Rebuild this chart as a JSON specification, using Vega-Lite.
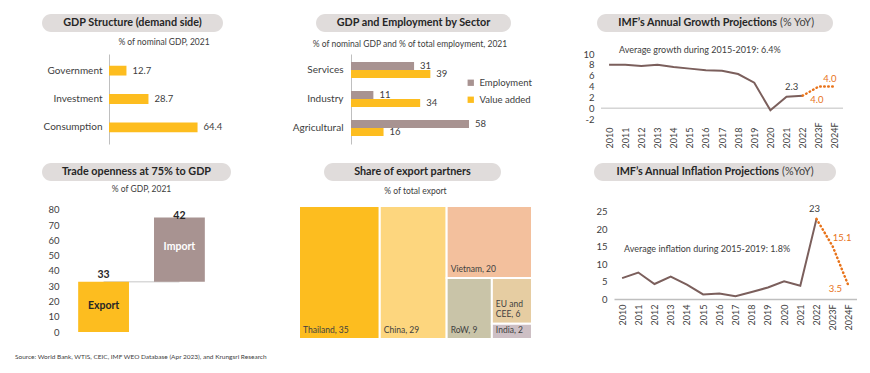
{
  "$schema": "https://vega.github.io/schema/vega-lite/v6.json",
  "background": "white",
  "padding": {"left": 15, "top": 14, "right": 0, "bottom": 0},
  "config": {
    "font": "Lato",
    "view": {"stroke": null},
    "axis": {"labelColor": "#404040", "labelFont": "Lato", "labelFontSize": 9, "ticks": false, "grid": false, "domainColor": "#BFBFBF", "labelOverlap": false},
    "title": {"fontSize": 8.5, "fontWeight": "normal", "color": "#404040", "anchor": "middle", "font": "Lato"},
    "text": {"font": "Lato", "fontSize": 9, "color": "#404040"}
  },
  "title": {"text": "Source: World Bank, WTIS, CEIC, IMF WEO Database (Apr 2023), and Krungsri Research", "orient": "bottom", "anchor": "start", "fontSize": 6.5, "dx": -27, "offset": 14, "color": "#404040"},
  "spacing": 15,
  "resolve": {"scale": {"color": "independent"}, "legend": {"color": "independent"}},
  "vconcat": [
    {
      "spacing": 5,
      "resolve": {"scale": {"color": "independent"}, "legend": {"color": "independent"}},
      "vconcat": [
        {
          "spacing": 93,
          "hconcat": [
            {"width": 181, "height": 18, "view": {"fill": "#E0DCDB", "cornerRadius": 9, "stroke": null},
             "data": {"values": [{"t": "GDP Structure (demand side)"}]},
             "mark": {"type": "text", "fontWeight": "bold", "fontSize": 10.8, "color": "#262626"},
             "encoding": {"text": {"field": "t"}}},
            {
              "spacing": 86,
              "hconcat": [
                {"width": 195, "height": 18, "view": {"fill": "#E0DCDB", "cornerRadius": 9, "stroke": null},
                 "data": {"values": [{"t": "GDP and Employment by Sector"}]},
                 "mark": {"type": "text", "fontWeight": "bold", "fontSize": 10.8, "color": "#262626"},
                 "encoding": {"text": {"field": "t"}}},
                {"width": 236, "height": 18, "view": {"fill": "#E0DCDB", "cornerRadius": 9, "stroke": null},
                 "data": {"values": [{"bold": "IMF’s Annual Growth Projections", "normal": "(% YoY)"}]},
                 "layer": [
                   {"mark": {"type": "text", "fontWeight": "bold", "fontSize": 10.8, "align": "right", "dx": 62, "color": "#262626"}, "encoding": {"text": {"field": "bold"}}},
                   {"mark": {"type": "text", "fontSize": 10.8, "align": "left", "dx": 65, "color": "#404040"}, "encoding": {"text": {"field": "normal"}}}
                 ]}
              ]
            }
          ]
        },
        {
          "spacing": 0,
          "resolve": {"scale": {"color": "independent"}, "legend": {"color": "independent"}},
          "hconcat": [
            {"width": 1, "height": 1, "data": {"values": [{}]}, "mark": {"type": "text"}, "encoding": {"text": {"value": " "}}},
            {
              "spacing": 69,
              "resolve": {"scale": {"color": "independent"}, "legend": {"color": "independent"}},
              "hconcat": [
                {
                  "title": {"text": "% of nominal GDP, 2021", "offset": 8},
                  "width": 110, "height": 90,
                  "data": {"values": [
                    {"component": "Government", "value": 12.7},
                    {"component": "Investment", "value": 28.7},
                    {"component": "Consumption", "value": 64.4}
                  ]},
                  "encoding": {
                    "y": {"field": "component", "type": "nominal", "sort": null, "scale": {"paddingInner": 0.655, "paddingOuter": 0.414},
                          "axis": {"title": null, "domain": true, "labelPadding": 7, "labelFontSize": 10}},
                    "x": {"field": "value", "type": "quantitative", "scale": {"domain": [0, 80]}, "axis": null}
                  },
                  "layer": [
                    {"mark": {"type": "bar", "color": "#FDBD1F"}},
                    {"mark": {"type": "text", "align": "left", "dx": 6, "fontSize": 9.5}, "encoding": {"text": {"field": "value", "format": ".1f"}}}
                  ]
                },
                {
                  "spacing": 50,
                  "resolve": {"scale": {"color": "independent"}, "legend": {"color": "independent"}},
                  "hconcat": [
                    {
                      "title": {"text": "% of nominal GDP and % of total employment, 2021", "offset": 6},
                      "width": 118, "height": 90,
                      "data": {"values": [
                        {"sector": "Services", "measure": "Employment", "value": 31},
                        {"sector": "Services", "measure": "Value added", "value": 39},
                        {"sector": "Industry", "measure": "Employment", "value": 11},
                        {"sector": "Industry", "measure": "Value added", "value": 34},
                        {"sector": "Agricultural", "measure": "Employment", "value": 58},
                        {"sector": "Agricultural", "measure": "Value added", "value": 16}
                      ]},
                      "encoding": {
                        "y": {"field": "sector", "type": "nominal", "sort": ["Services", "Industry", "Agricultural"], "scale": {"paddingInner": 0.45, "paddingOuter": 0.276},
                              "axis": {"title": null, "domain": true, "labelPadding": 8, "labelFontSize": 10}},
                        "yOffset": {"field": "measure", "type": "nominal", "sort": ["Employment", "Value added"]},
                        "x": {"field": "value", "type": "quantitative", "scale": {"domain": [0, 58]}, "axis": null}
                      },
                      "layer": [
                        {"mark": {"type": "bar"},
                         "encoding": {"color": {"field": "measure", "type": "nominal",
                           "scale": {"domain": ["Employment", "Value added"], "range": ["#A89391", "#FDBD1F"]},
                           "legend": {"title": null, "orient": "none", "legendX": 115, "legendY": 24, "symbolType": "square", "symbolSize": 40, "labelFontSize": 9.5, "labelColor": "#404040", "rowPadding": 6, "padding": 0}}}},
                        {"mark": {"type": "text", "align": "left", "dx": 6, "fontSize": 9.5}, "encoding": {"text": {"field": "value"}}}
                      ]
                    },
                    {
                      "width": 242, "height": 65,
                      "data": {"values": [
                        {"year": "2010", "value": 8.0, "series": "actual"},
                        {"year": "2011", "value": 8.0, "series": "actual"},
                        {"year": "2012", "value": 7.8, "series": "actual"},
                        {"year": "2013", "value": 8.0, "series": "actual"},
                        {"year": "2014", "value": 7.6, "series": "actual"},
                        {"year": "2015", "value": 7.3, "series": "actual"},
                        {"year": "2016", "value": 7.0, "series": "actual"},
                        {"year": "2017", "value": 6.9, "series": "actual"},
                        {"year": "2018", "value": 6.3, "series": "actual"},
                        {"year": "2019", "value": 4.7, "series": "actual"},
                        {"year": "2020", "value": -0.4, "series": "actual"},
                        {"year": "2021", "value": 2.1, "series": "actual"},
                        {"year": "2022", "value": 2.3, "series": "actual"},
                        {"year": "2022", "value": 2.3, "series": "forecast"},
                        {"year": "2023F", "value": 4.0, "series": "forecast"},
                        {"year": "2024F", "value": 4.0, "series": "forecast"}
                      ]},
                      "layer": [
                        {"data": {"values": [{}]}, "mark": {"type": "rule", "color": "#BFBFBF", "strokeWidth": 1}, "encoding": {"y": {"datum": 0}}},
                        {"transform": [{"filter": "datum.series === 'actual'"}],
                         "mark": {"type": "line", "color": "#7B5F5C", "strokeWidth": 2},
                         "encoding": {
                           "x": {"field": "year", "type": "ordinal", "scale": {"type": "point", "padding": 0.5}, "axis": {"title": null, "labelAngle": -90, "labelAlign": "left", "domain": false, "labelPadding": 29}},
                           "y": {"field": "value", "type": "quantitative", "scale": {"domain": [-2, 10], "nice": false}, "axis": {"title": null, "values": [-2, 0, 2, 4, 6, 8, 10], "format": "d", "tickCount": 20, "labelOverlap": false, "labelExpr": "replace(datum.label, '−', '-')", "domain": false, "labelPadding": 7, "labelFontSize": 9.5}}
                         }},
                        {"transform": [{"filter": "datum.series === 'forecast'"}],
                         "mark": {"type": "line", "color": "#E8731A", "strokeWidth": 2.5, "strokeDash": [0.5, 3.5], "strokeCap": "round"},
                         "encoding": {"x": {"field": "year", "type": "ordinal"}, "y": {"field": "value", "type": "quantitative"}}},
                        {"transform": [{"filter": "datum.series === 'actual' && datum.year === '2022'"}],
                         "mark": {"type": "text", "fontSize": 9.5, "dx": -11, "dy": -9},
                         "encoding": {"x": {"field": "year", "type": "ordinal"}, "y": {"field": "value", "type": "quantitative"}, "text": {"field": "value", "format": ".1f"}}},
                        {"transform": [{"filter": "datum.year === '2023F'"}],
                         "mark": {"type": "text", "fontSize": 9.5, "color": "#E8731A", "dx": -2, "dy": 13},
                         "encoding": {"x": {"field": "year", "type": "ordinal"}, "y": {"field": "value", "type": "quantitative"}, "text": {"field": "value", "format": ".1f"}}},
                        {"transform": [{"filter": "datum.year === '2024F'"}],
                         "mark": {"type": "text", "fontSize": 9.5, "color": "#E8731A", "dx": -5, "dy": -8},
                         "encoding": {"x": {"field": "year", "type": "ordinal"}, "y": {"field": "value", "type": "quantitative"}, "text": {"field": "value", "format": ".1f"}}},
                        {"data": {"values": [{}]},
                         "mark": {"type": "text", "fontSize": 9, "dx": -6},
                         "encoding": {"x": {"datum": "2016"}, "y": {"datum": 10.8}, "text": {"value": "Average growth during 2015-2019: 6.4%"}}}
                      ]
                    }
                  ]
                }
              ]
            }
          ]
        }
      ]
    },
    {
      "spacing": 4,
      "resolve": {"scale": {"color": "independent"}, "legend": {"color": "independent"}},
      "vconcat": [
        {
          "spacing": 93,
          "hconcat": [
            {"width": 189, "height": 18, "view": {"fill": "#E0DCDB", "cornerRadius": 9, "stroke": null},
             "data": {"values": [{"t": "Trade openness at 75% to GDP"}]},
             "mark": {"type": "text", "fontWeight": "bold", "fontSize": 10.8, "color": "#262626"},
             "encoding": {"text": {"field": "t"}}},
            {
              "spacing": 93,
              "hconcat": [
                {"width": 177, "height": 18, "view": {"fill": "#E0DCDB", "cornerRadius": 9, "stroke": null},
                 "data": {"values": [{"t": "Share of export partners"}]},
                 "mark": {"type": "text", "fontWeight": "bold", "fontSize": 10.8, "color": "#262626"},
                 "encoding": {"text": {"field": "t"}}},
                {"width": 242, "height": 18, "view": {"fill": "#E0DCDB", "cornerRadius": 9, "stroke": null},
                 "data": {"values": [{"bold": "IMF’s Annual Inflation Projections", "normal": "(%YoY)"}]},
                 "layer": [
                   {"mark": {"type": "text", "fontWeight": "bold", "fontSize": 10.8, "align": "right", "dx": 64, "color": "#262626"}, "encoding": {"text": {"field": "bold"}}},
                   {"mark": {"type": "text", "fontSize": 10.8, "align": "left", "dx": 67, "color": "#404040"}, "encoding": {"text": {"field": "normal"}}}
                 ]}
              ]
            }
          ]
        },
        {
          "spacing": 4,
          "resolve": {"scale": {"color": "independent"}, "legend": {"color": "independent"}},
          "hconcat": [
            {"width": 1, "height": 1, "data": {"values": [{}]}, "mark": {"type": "text"}, "encoding": {"text": {"value": " "}}},
            {
              "spacing": 78,
              "resolve": {"scale": {"color": "independent"}, "legend": {"color": "independent"}},
              "hconcat": [
                {
                  "title": {"text": "% of GDP, 2021", "offset": 11},
                  "width": 157, "height": 126,
                  "data": {"values": [
                    {"flow": "Export", "start": 0, "end": 33, "value": 33},
                    {"flow": "Import", "start": 33, "end": 75, "value": 42}
                  ]},
                  "layer": [
                    {"mark": {"type": "line", "color": "#D9D9D9", "strokeWidth": 1.5},
                     "encoding": {"x": {"field": "flow", "type": "nominal", "scale": {"paddingInner": 0.33, "paddingOuter": 0.2}, "axis": null}, "y": {"datum": 33}}},
                    {"mark": {"type": "bar"},
                     "encoding": {
                       "x": {"field": "flow", "type": "nominal", "axis": null},
                       "y": {"field": "start", "type": "quantitative", "scale": {"domain": [0, 82.6], "nice": false}, "axis": {"title": null, "values": [0, 10, 20, 30, 40, 50, 60, 70, 80], "tickCount": 20, "labelOverlap": false, "domain": false, "labelPadding": 4, "labelFontSize": 9.5}},
                       "y2": {"field": "end"},
                       "color": {"field": "flow", "type": "nominal", "scale": {"domain": ["Export", "Import"], "range": ["#FDBD1F", "#A89391"]}, "legend": null}
                     }},
                    {"transform": [{"filter": "datum.flow === 'Export'"}],
                     "mark": {"type": "text", "fontWeight": "bold", "fontSize": 10.5, "color": "#262626", "dy": -7},
                     "encoding": {"x": {"field": "flow", "type": "nominal"}, "y": {"field": "end", "type": "quantitative"}, "text": {"field": "value"}}},
                    {"transform": [{"filter": "datum.flow === 'Import'"}],
                     "mark": {"type": "text", "fontWeight": "bold", "fontSize": 10.5, "color": "#262626", "dy": -2},
                     "encoding": {"x": {"field": "flow", "type": "nominal"}, "y": {"field": "end", "type": "quantitative"}, "text": {"field": "value"}}},
                    {"data": {"values": [{}]},
                     "mark": {"type": "text", "fontWeight": "bold", "fontSize": 10.5, "color": "#262626"},
                     "encoding": {"x": {"datum": "Export"}, "y": {"datum": 17}, "text": {"value": "Export"}}},
                    {"data": {"values": [{}]},
                     "mark": {"type": "text", "fontWeight": "bold", "fontSize": 10.5, "color": "white"},
                     "encoding": {"x": {"datum": "Import"}, "y": {"datum": 56}, "text": {"value": "Import"}}}
                  ]
                },
                {
                  "spacing": 62,
                  "resolve": {"scale": {"color": "independent"}, "legend": {"color": "independent"}},
                  "hconcat": [
                    {
                      "title": {"text": "% of total export", "offset": 10},
                      "width": 233, "height": 133,
                      "data": {"values": [
                        {"partner": "Thailand", "share": 35, "label": "Thailand, 35", "xStart": 0, "xEnd": 35, "yStart": 0, "yEnd": 100},
                        {"partner": "China", "share": 29, "label": "China, 29", "xStart": 35, "xEnd": 64, "yStart": 0, "yEnd": 100},
                        {"partner": "Vietnam", "share": 20, "label": "Vietnam, 20", "xStart": 64, "xEnd": 101, "yStart": 45.9, "yEnd": 100},
                        {"partner": "RoW", "share": 9, "label": "RoW, 9", "xStart": 64, "xEnd": 83.6, "yStart": 0, "yEnd": 45.9},
                        {"partner": "EU and CEE", "share": 6, "label": "EU and\nCEE, 6", "xStart": 83.6, "xEnd": 101, "yStart": 11.5, "yEnd": 45.9},
                        {"partner": "India", "share": 2, "label": "India, 2", "xStart": 83.6, "xEnd": 101, "yStart": 0, "yEnd": 11.5}
                      ]},
                      "encoding": {
                        "x": {"field": "xStart", "type": "quantitative", "scale": {"domain": [0, 101], "nice": false}, "axis": null},
                        "y": {"field": "yStart", "type": "quantitative", "scale": {"domain": [0, 100], "nice": false}, "axis": null}
                      },
                      "layer": [
                        {"mark": {"type": "rect", "stroke": "white", "strokeWidth": 2},
                         "encoding": {"x2": {"field": "xEnd"}, "y2": {"field": "yEnd"},
                           "color": {"field": "partner", "type": "nominal", "scale": {"domain": ["Thailand", "China", "Vietnam", "RoW", "EU and CEE", "India"], "range": ["#FDBD1F", "#FDD67E", "#F3C09D", "#C9C4A8", "#E6CDA2", "#CDBFC4"]}, "legend": null}}},
                        {"transform": [{"filter": "datum.partner !== 'EU and CEE'"}],
                         "mark": {"type": "text", "align": "left", "baseline": "bottom", "dx": 4, "dy": -4, "fontSize": 8.5, "color": "#404040"},
                         "encoding": {"text": {"field": "label"}}},
                        {"transform": [{"filter": "datum.partner === 'EU and CEE'"}],
                         "mark": {"type": "text", "align": "left", "baseline": "bottom", "dx": 4, "dy": -15, "fontSize": 8.5, "lineBreak": "\n", "color": "#404040"},
                         "encoding": {"text": {"field": "label"}}}
                      ]
                    },
                    {
                      "width": 243, "height": 93,
                      "data": {"values": [
                        {"year": "2010", "value": 6.0, "series": "actual"},
                        {"year": "2011", "value": 7.6, "series": "actual"},
                        {"year": "2012", "value": 4.3, "series": "actual"},
                        {"year": "2013", "value": 6.4, "series": "actual"},
                        {"year": "2014", "value": 4.1, "series": "actual"},
                        {"year": "2015", "value": 1.3, "series": "actual"},
                        {"year": "2016", "value": 1.6, "series": "actual"},
                        {"year": "2017", "value": 0.8, "series": "actual"},
                        {"year": "2018", "value": 2.0, "series": "actual"},
                        {"year": "2019", "value": 3.3, "series": "actual"},
                        {"year": "2020", "value": 5.1, "series": "actual"},
                        {"year": "2021", "value": 3.8, "series": "actual"},
                        {"year": "2022", "value": 23.0, "series": "actual"},
                        {"year": "2022", "value": 23.0, "series": "forecast"},
                        {"year": "2023F", "value": 15.1, "series": "forecast"},
                        {"year": "2024F", "value": 3.5, "series": "forecast"}
                      ]},
                      "layer": [
                        {"transform": [{"filter": "datum.series === 'actual'"}],
                         "mark": {"type": "line", "color": "#7B5F5C", "strokeWidth": 2},
                         "encoding": {
                           "x": {"field": "year", "type": "ordinal", "scale": {"type": "point", "padding": 0.5}, "axis": {"title": null, "labelAngle": -90, "domain": true, "domainWidth": 1.5, "labelPadding": 5}},
                           "y": {"field": "value", "type": "quantitative", "scale": {"domain": [0, 26.7], "nice": false}, "axis": {"title": null, "values": [0, 5, 10, 15, 20, 25], "format": "d", "tickCount": 20, "labelOverlap": false, "domain": false, "labelPadding": 7, "labelFontSize": 9.5}}
                         }},
                        {"transform": [{"filter": "datum.series === 'forecast'"}],
                         "mark": {"type": "line", "color": "#E8731A", "strokeWidth": 2.5, "strokeDash": [0.5, 3.5], "strokeCap": "round"},
                         "encoding": {"x": {"field": "year", "type": "ordinal"}, "y": {"field": "value", "type": "quantitative"}}},
                        {"transform": [{"filter": "datum.series === 'actual' && datum.year === '2022'"}],
                         "mark": {"type": "text", "fontSize": 9.5, "dx": -2, "dy": -10},
                         "encoding": {"x": {"field": "year", "type": "ordinal"}, "y": {"field": "value", "type": "quantitative"}, "text": {"field": "value", "format": ".0f"}}},
                        {"transform": [{"filter": "datum.year === '2023F'"}],
                         "mark": {"type": "text", "fontSize": 9.5, "color": "#E8731A", "align": "left", "dx": 0, "dy": -8},
                         "encoding": {"x": {"field": "year", "type": "ordinal"}, "y": {"field": "value", "type": "quantitative"}, "text": {"field": "value", "format": ".1f"}}},
                        {"transform": [{"filter": "datum.year === '2024F'"}],
                         "mark": {"type": "text", "fontSize": 9.5, "color": "#E8731A", "align": "right", "dx": -7, "dy": 2},
                         "encoding": {"x": {"field": "year", "type": "ordinal"}, "y": {"field": "value", "type": "quantitative"}, "text": {"field": "value", "format": ".1f"}}},
                        {"data": {"values": [{}]},
                         "mark": {"type": "text", "fontSize": 9, "dx": 4},
                         "encoding": {"x": {"datum": "2015"}, "y": {"datum": 14.4}, "text": {"value": "Average inflation during 2015-2019: 1.8%"}}}
                      ]
                    }
                  ]
                }
              ]
            }
          ]
        }
      ]
    }
  ]
}
